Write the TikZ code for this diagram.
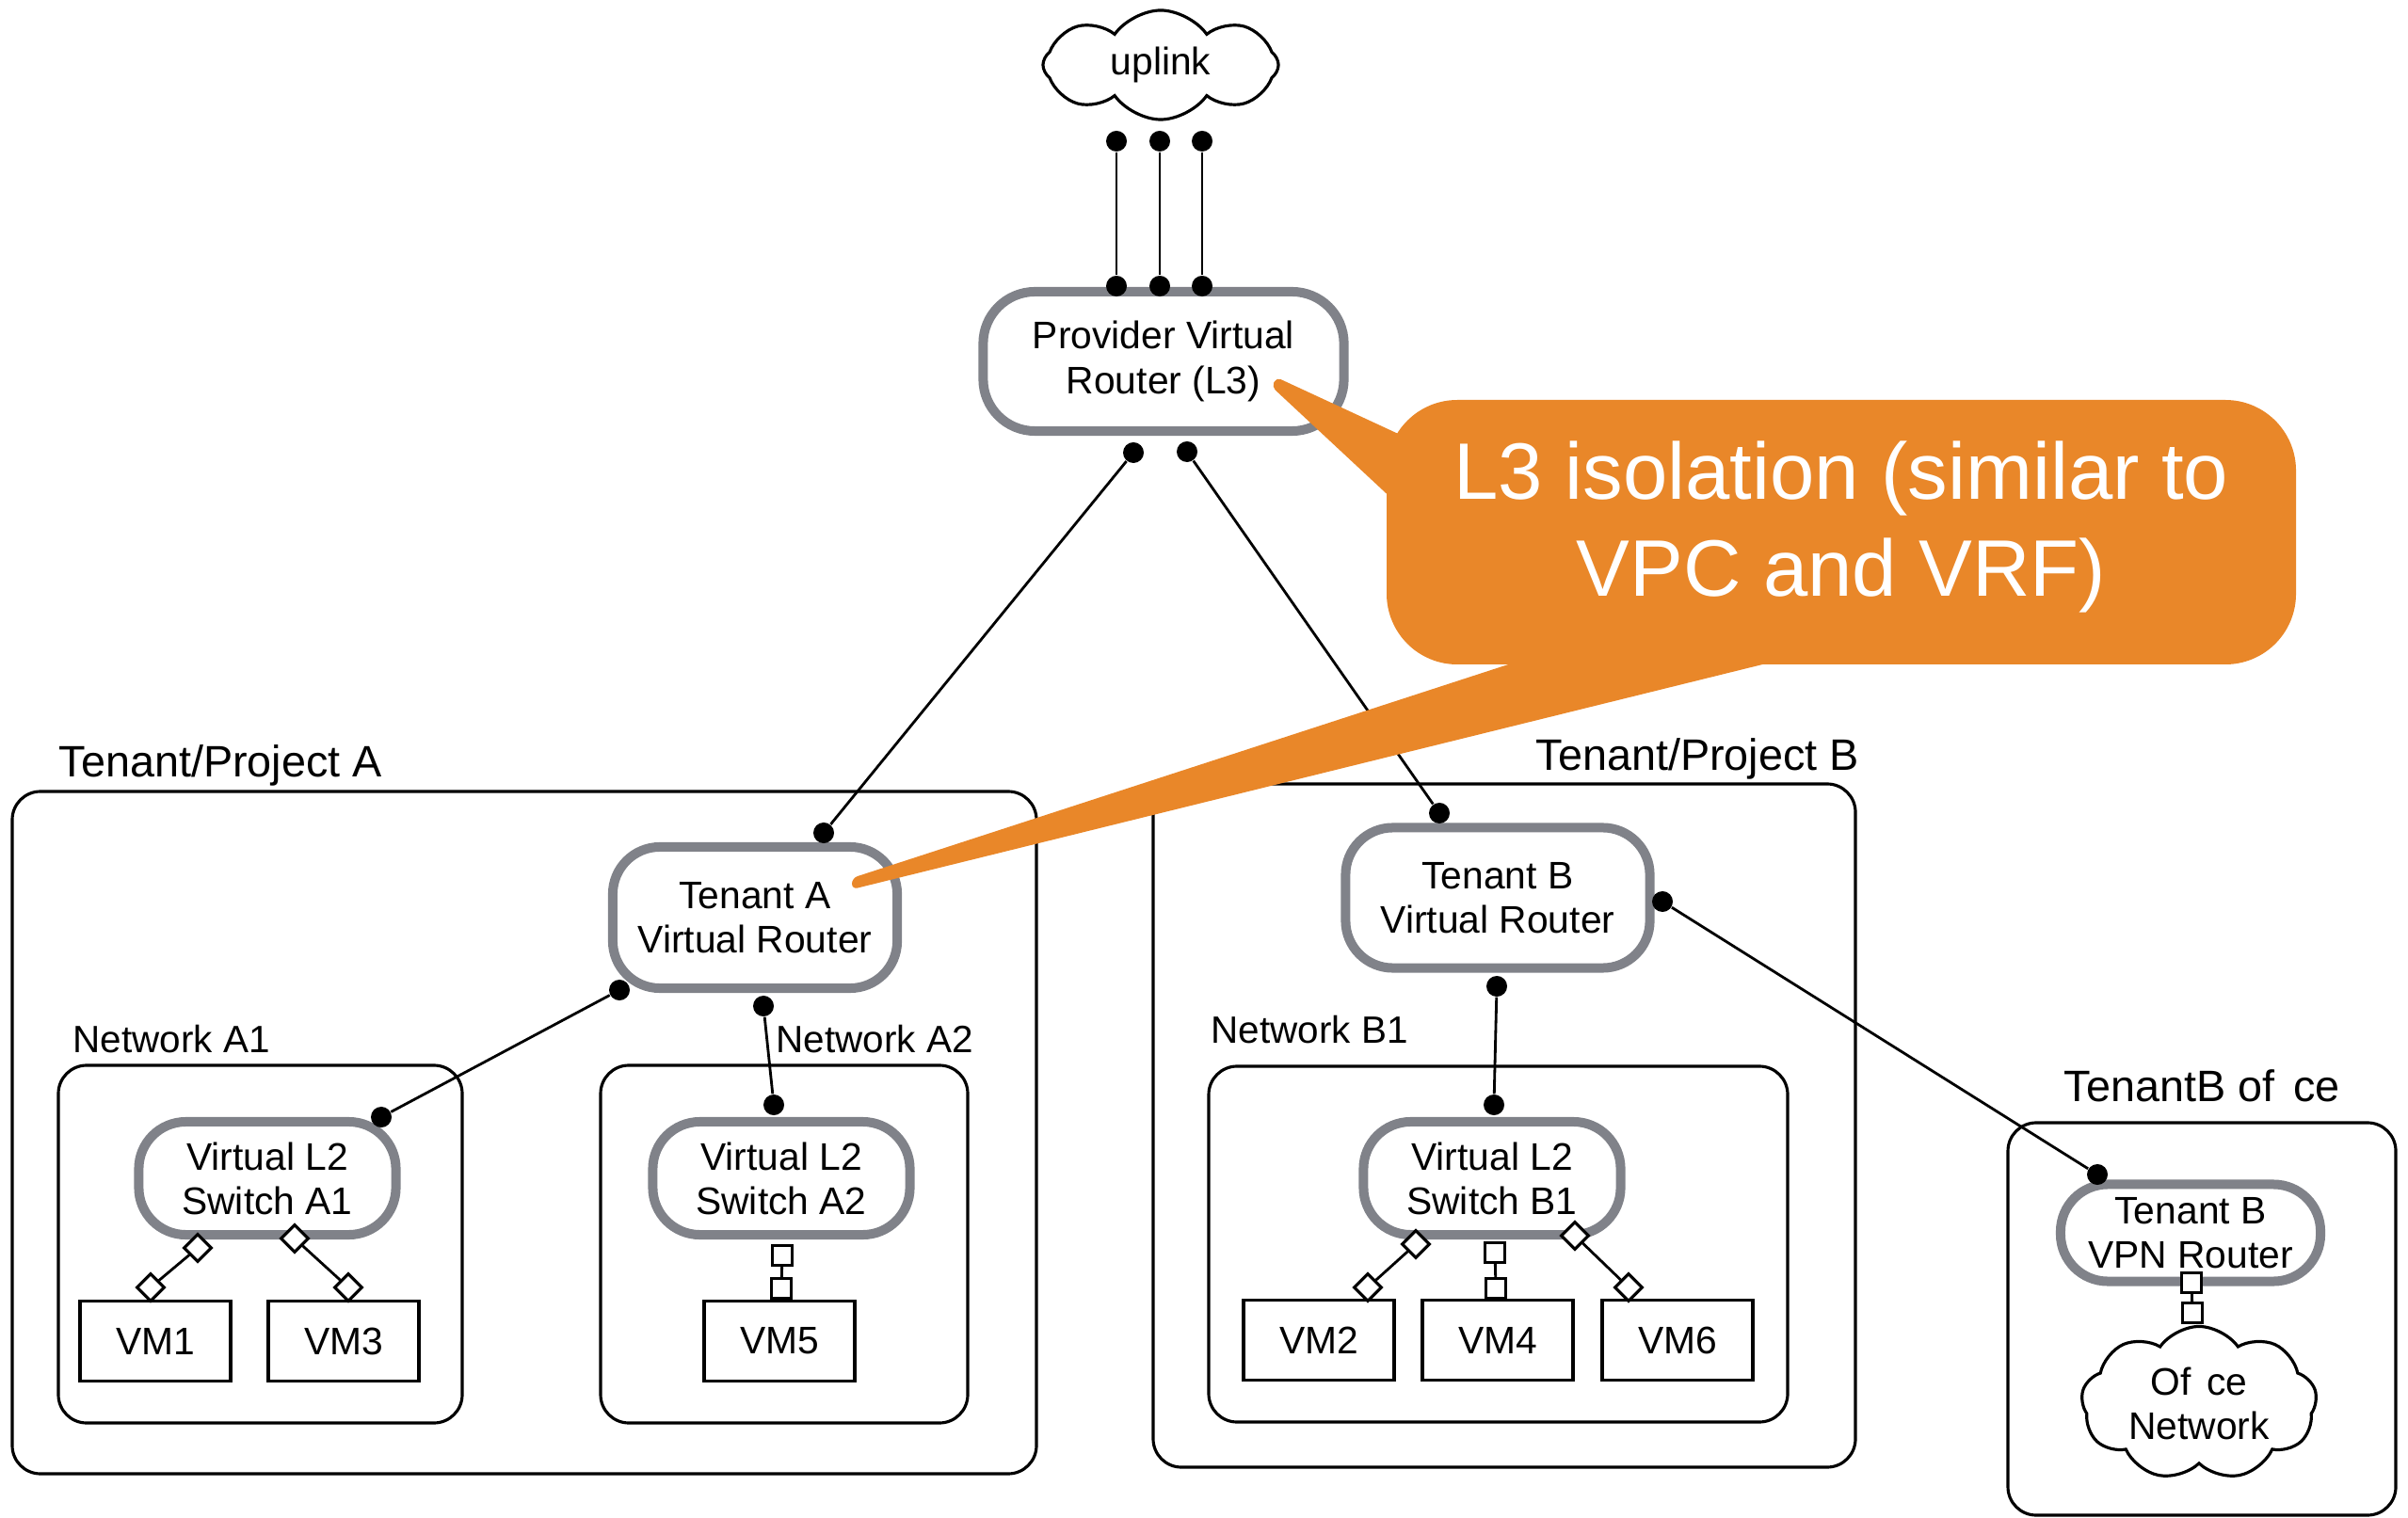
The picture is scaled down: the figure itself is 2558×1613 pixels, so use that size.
\documentclass[tikz,border=0pt]{standalone}
\usepackage{fontspec}
\setmainfont{Liberation Sans}
\usetikzlibrary{shapes.symbols,shapes.geometric}
\definecolor{routgray}{RGB}{128,130,137}
\definecolor{calloutorange}{RGB}{233,135,41}
\begin{document}
\begin{tikzpicture}[x=0.01cm, y=-0.01cm,
  router/.style={draw=routgray, line width=0.1cm, rounded corners=0.5cm, fill=white, align=center, inner sep=0pt, font=\fontsize{11.6}{13.4}\selectfont},
  vm/.style={draw, line width=1pt, minimum width=1.6cm, minimum height=0.85cm, inner sep=0pt, font=\fontsize{11.6}{13.4}\selectfont},
  pdot/.style={circle, fill=black, inner sep=0pt, minimum size=0.22cm},
  port/.style={diamond, draw, fill=white, line width=0.9pt, inner sep=0pt, minimum width=0.3cm, minimum height=0.3cm},
  sq/.style={rectangle, draw, fill=white, line width=0.9pt, inner sep=0pt, minimum size=0.21cm},
  grp/.style={line width=0.9pt, rounded corners=0.3cm},
  lbl/.style={anchor=base west, inner sep=0pt, font=\fontsize{11.5}{13.4}\selectfont},
  tlbl/.style={anchor=base west, inner sep=0pt, font=\fontsize{13.3}{15}\selectfont},
  link/.style={line width=0.8pt},
  cld/.style={cloud, cloud puffs=9, cloud puff arc=110, cloud ignores aspect, draw, line width=0.9pt, fill=white, align=center, inner sep=0pt, font=\fontsize{11.6}{13.4}\selectfont}]
\useasboundingbox (0,0) rectangle (2558,1613);

\draw[grp] (13,841) rectangle (1101,1566);
\draw[grp] (62,1132) rectangle (491,1512);
\draw[grp] (638,1132) rectangle (1028,1512);
\draw[grp] (1225,833) rectangle (1971,1559);
\draw[grp] (1284,1133) rectangle (1899,1511);
\draw[grp] (2133,1193) rectangle (2545,1610);

\node[tlbl] (lblA) at (62,826) {Tenant/Project A};
\node[tlbl] (lblB) at (1631,819) {Tenant/Project B};
\node[tlbl] (lblO) at (2192,1170) {TenantB of\hspace{0.2cm}ce};
\node[lbl] (lblA1) at (77,1118) {Network A1};
\node[lbl] (lblA2) at (824,1118) {Network A2};
\node[lbl] (lblB1) at (1286,1108) {Network B1};

\node[cld, cloud puffs=8, minimum width=2.5cm, minimum height=1.16cm] (uplink) at (1233,69) {uplink};
\node[cld, minimum width=2.5cm, minimum height=1.63cm] (office) at (2336,1491) {Of\hspace{0.16cm}ce\\Network};

\node[router, minimum width=3.83cm, minimum height=1.48cm, rounded corners=0.55cm] (prov) at (1236,384) {Provider Virtual\\Router (L3)};
\node[router, minimum width=3.02cm, minimum height=1.5cm] (routA) at (802,975) {Tenant A\\Virtual Router};
\node[router, minimum width=3.23cm, minimum height=1.49cm] (routB) at (1591,954) {Tenant B\\Virtual Router};
\node[router, minimum width=2.73cm, minimum height=1.2cm] (swA1) at (284,1252) {Virtual L2\\Switch A1};
\node[router, minimum width=2.73cm, minimum height=1.2cm] (swA2) at (830,1252) {Virtual L2\\Switch A2};
\node[router, minimum width=2.73cm, minimum height=1.2cm] (swB1) at (1585,1252) {Virtual L2\\Switch B1};
\node[router, minimum width=2.76cm, minimum height=1.03cm] (vpn) at (2327,1310) {Tenant B\\VPN Router};

\node[vm] (vm1) at (165,1425) {VM1};
\node[vm] (vm3) at (365,1425) {VM3};
\node[vm] (vm5) at (828,1425) {VM5};
\node[vm] (vm2) at (1401,1424) {VM2};
\node[vm] (vm4) at (1591,1424) {VM4};
\node[vm] (vm6) at (1782,1424) {VM6};

\node[pdot] (u1) at (1186,150) {};
\node[pdot] (u2) at (1232,150) {};
\node[pdot] (u3) at (1277,150) {};
\node[pdot] (p1) at (1186,304) {};
\node[pdot] (p2) at (1232,304) {};
\node[pdot] (p3) at (1277,304) {};
\node[pdot] (p4) at (1204,481) {};
\node[pdot] (p5) at (1261,480) {};
\node[pdot] (a1) at (875,885) {};
\node[pdot] (a2) at (658,1052) {};
\node[pdot] (a3) at (811,1069) {};
\node[pdot] (a4) at (405,1187) {};
\node[pdot] (a5) at (822,1174) {};
\node[pdot] (b1) at (1529,864) {};
\node[pdot] (b2) at (1766,958) {};
\node[pdot] (b3) at (1590,1048) {};
\node[pdot] (b4) at (1587,1174) {};
\node[pdot] (b5) at (2228,1248) {};

\draw[link] (u1) -- (p1);
\draw[link] (u2) -- (p2);
\draw[link] (u3) -- (p3);
\draw[link] (p4) -- (a1);
\draw[link] (p5) -- (b1);
\draw[link] (a2) -- (a4);
\draw[link] (a3) -- (a5);
\draw[link] (b3) -- (b4);
\draw[link] (b2) -- (b5);

\node[port] (d1) at (210,1326) {};
\node[port] (d2) at (160,1368) {};
\node[port] (d3) at (313,1316) {};
\node[port] (d4) at (370,1368) {};
\node[port] (d5) at (1504,1322) {};
\node[port] (d6) at (1453,1368) {};
\node[port] (d7) at (1673,1313) {};
\node[port] (d8) at (1730,1368) {};
\node[sq] (s1) at (831,1334) {};
\node[sq] (s2) at (830,1369) {};
\node[sq] (s3) at (1588,1331) {};
\node[sq] (s4) at (1589,1369) {};
\node[sq] (s5) at (2328,1363) {};
\node[sq] (s6) at (2329,1395) {};
\draw[link] (d1) -- (d2);
\draw[link] (d3) -- (d4);
\draw[link] (d5) -- (d6);
\draw[link] (d7) -- (d8);
\draw[link] (s1) -- (s2);
\draw[link] (s3) -- (s4);
\draw[link] (s5) -- (s6);

\fill[calloutorange, rounded corners=0.75cm] (1473,425) rectangle (2439,706);
\fill[calloutorange, rounded corners=0.05cm] (1522,478) -- (1356,401) -- (1351,411) -- (1513,562) -- cycle;
\fill[calloutorange, rounded corners=0.06cm] (1673,683) -- (905,933) -- (905,945) -- (1925,693) -- cycle;
\node[text=white, align=center, font=\fontsize{24.2}{29.5}\selectfont] (note) at (1956,560) {L3 isolation (similar to\\VPC and VRF)};
\end{tikzpicture}
\end{document}
